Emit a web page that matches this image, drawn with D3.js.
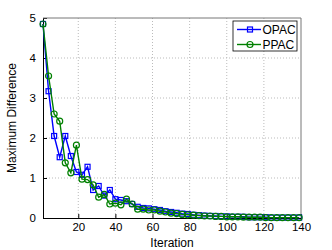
<!DOCTYPE html>
<html>
<head>
<meta charset="utf-8">
<script src="https://cdn.jsdelivr.net/npm/d3@7"></script>
<style>
  body { margin: 0; background: #fff; }
  text { font-family: "Liberation Sans", Arial, sans-serif; }
</style>
</head>
<body>
<div id="chart"></div>
<script>
// iterations sampled every 3 steps
var iterations = d3.range(1, 140, 3);

var opac = [4.85, 3.17, 2.05, 1.52, 2.05, 1.55, 1.15, 1.08, 1.28, 0.70,
            0.80, 0.56, 0.70, 0.47, 0.45, 0.42, 0.35, 0.28, 0.25, 0.24,
            0.22, 0.20, 0.17, 0.15, 0.13, 0.11, 0.10, 0.08, 0.07, 0.06,
            0.05, 0.05, 0.04, 0.04, 0.03, 0.03, 0.03, 0.02, 0.02, 0.02,
            0.02, 0.01, 0.01, 0.01, 0.01, 0.01, 0.01];

var ppac = [4.85, 3.55, 2.60, 2.42, 1.38, 1.13, 1.82, 0.97, 0.96, 0.83,
            0.52, 0.59, 0.35, 0.37, 0.33, 0.47, 0.35, 0.22, 0.22, 0.20,
            0.20, 0.17, 0.15, 0.12, 0.11, 0.09, 0.08, 0.07, 0.06, 0.05,
            0.05, 0.04, 0.04, 0.03, 0.03, 0.03, 0.02, 0.02, 0.02, 0.02,
            0.01, 0.01, 0.01, 0.01, 0.01, 0.01, 0.01];

var xTicks = [20, 40, 60, 80, 100, 120, 140];
var yTicks = [0, 1, 2, 3, 4, 5];

var series = [
  {name: "OPAC", values: opac, color: "#0000ff", marker: "square"},
  {name: "PPAC", values: ppac, color: "#008000", marker: "circle"}
];

var margin = {top: 18, right: 31, bottom: 32, left: 43},
    width = 332 - margin.left - margin.right,
    height = 250 - margin.top - margin.bottom;

var svg = d3.select("#chart").append("svg")
    .attr("width", 332)
    .attr("height", 250)
  .append("g")
    .attr("transform", "translate(" + margin.left + "," + margin.top + ")");

var x = d3.scaleLinear().domain([1, 140]).range([0, width]);
var y = d3.scaleLinear().domain([0, 5]).range([height, 0]);

// grid
svg.append("g").selectAll("line")
    .data(xTicks.filter(function(d) { return d < 140; }))
  .enter().append("line")
    .attr("x1", function(d) { return x(d); })
    .attr("x2", function(d) { return x(d); })
    .attr("y1", 0).attr("y2", height)
    .attr("stroke", "#bbb").attr("stroke-dasharray", "1,2");

svg.append("g").selectAll("line")
    .data(yTicks.filter(function(d) { return d > 0 && d < 5; }))
  .enter().append("line")
    .attr("y1", function(d) { return y(d); })
    .attr("y2", function(d) { return y(d); })
    .attr("x1", 0).attr("x2", width)
    .attr("stroke", "#bbb").attr("stroke-dasharray", "1,2");

// axes
var xAxis = svg.append("g")
    .attr("transform", "translate(0," + height + ")")
    .call(d3.axisBottom(x).tickValues(xTicks).tickFormat(d3.format("d"))
      .tickSizeInner(-4).tickSizeOuter(0).tickPadding(5));
var yAxis = svg.append("g")
    .call(d3.axisLeft(y).tickValues(yTicks).tickFormat(d3.format("d"))
      .tickSizeInner(-4).tickSizeOuter(0).tickPadding(7));

[xAxis, yAxis].forEach(function(a) {
  a.select(".domain").attr("stroke", "#000");
  a.selectAll("text").style("font-size", "11.5px").attr("fill", "#000");
});

// top and right border
svg.append("line").attr("x1", 0).attr("x2", width).attr("y1", 0).attr("y2", 0)
    .attr("stroke", "#777");
svg.append("line").attr("x1", width).attr("x2", width).attr("y1", 0).attr("y2", height)
    .attr("stroke", "#777");

var line = d3.line()
    .x(function(d, i) { return x(iterations[i]); })
    .y(function(d) { return y(d); });

series.forEach(function(s) {
  svg.append("path")
      .datum(s.values)
      .attr("fill", "none")
      .attr("stroke", s.color)
      .attr("stroke-width", 1.4)
      .attr("d", line);

  var g = svg.append("g");
  if (s.marker === "square") {
    g.selectAll("rect").data(s.values).enter().append("rect")
        .attr("x", function(d, i) { return x(iterations[i]) - 2.5; })
        .attr("y", function(d) { return y(d) - 2.5; })
        .attr("width", 5).attr("height", 5)
        .attr("fill", "none").attr("stroke", s.color).attr("stroke-width", 1.2);
  } else {
    g.selectAll("circle").data(s.values).enter().append("circle")
        .attr("cx", function(d, i) { return x(iterations[i]); })
        .attr("cy", function(d) { return y(d); })
        .attr("r", 3)
        .attr("fill", "none").attr("stroke", s.color).attr("stroke-width", 1.2);
  }
});

// legend
var legend = svg.append("g")
    .attr("transform", "translate(" + (233 - margin.left) + "," + (21 - margin.top) + ")");
legend.append("rect")
    .attr("width", 64).attr("height", 30)
    .attr("fill", "#fff").attr("stroke", "#000").attr("stroke-width", 0.8);

series.forEach(function(s, i) {
  var ly = 8.5 + i * 15;
  legend.append("line")
      .attr("x1", 4).attr("x2", 28).attr("y1", ly).attr("y2", ly)
      .attr("stroke", s.color).attr("stroke-width", 1.4);
  if (s.marker === "square") {
    legend.append("rect").attr("x", 14.5).attr("y", ly - 2.5).attr("width", 5).attr("height", 5)
        .attr("fill", "none").attr("stroke", s.color).attr("stroke-width", 1.2);
  } else {
    legend.append("circle").attr("cx", 17).attr("cy", ly).attr("r", 3)
        .attr("fill", "none").attr("stroke", s.color).attr("stroke-width", 1.2);
  }
  legend.append("text")
      .attr("x", 29.5).attr("y", ly).attr("dy", "0.36em")
      .style("font-size", "12px")
      .text(s.name);
});

// axis labels
svg.append("text")
    .attr("x", width / 2).attr("y", height + 29)
    .attr("text-anchor", "middle")
    .style("font-size", "12px")
    .text("Iteration");

svg.append("text")
    .attr("transform", "rotate(-90)")
    .attr("x", -height / 2).attr("y", -27)
    .attr("text-anchor", "middle")
    .style("font-size", "12px")
    .text("Maximum Difference");
</script>
</body>
</html>
